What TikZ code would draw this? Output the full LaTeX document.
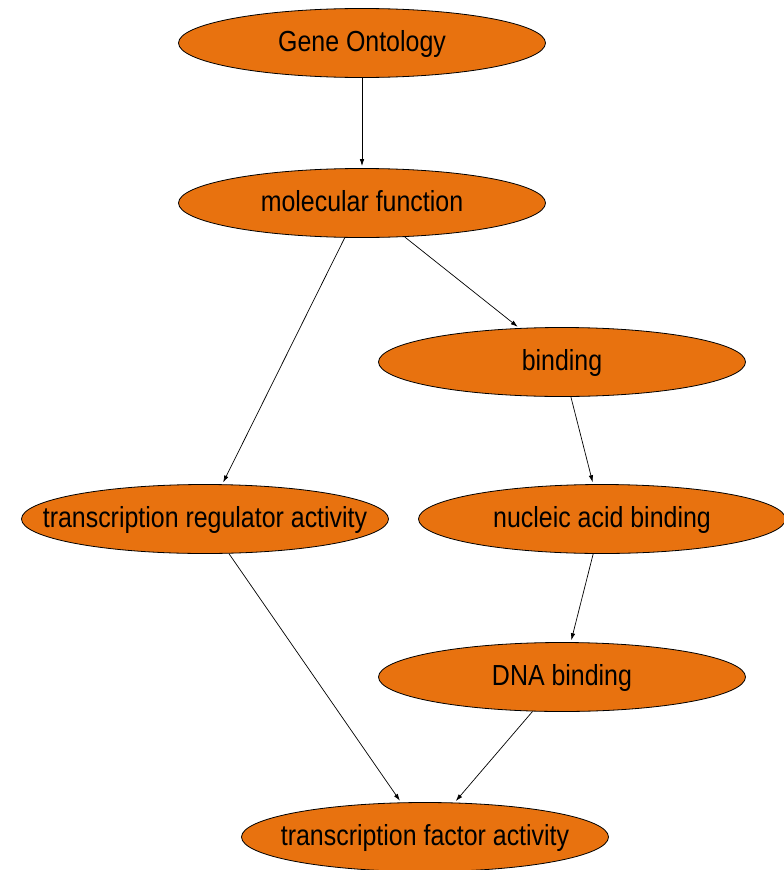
\documentclass[tikz,border=0pt]{standalone}
\usepackage{fontspec}
\setmainfont{Liberation Sans}
\usetikzlibrary{shapes.geometric,arrows.meta}
\definecolor{goorange}{HTML}{E8720F}
% label set on the node centre: zero-size box, baseline 8pt below centre,
% glyphs narrowed a little
\newcommand\termtext[1]{\raisebox{-8pt}[0pt][0pt]{\makebox[0pt]{\scalebox{0.86}[1]{#1}}}}
\tikzset{
  term/.style={ellipse, draw=black, line width=0.8pt, fill=goorange,
    minimum width=367pt, minimum height=69pt, inner sep=0pt,
    font=\fontsize{29pt}{34pt}\selectfont},
  isa/.style={draw=black, line width=0.7pt,
    -{Latex[length=7pt,width=4.5pt]}, shorten >=2pt}
}
\begin{document}
\begin{tikzpicture}[x=1pt,y=-1pt]
  \useasboundingbox (0,0) rectangle (784,870);
  \clip (0,0) rectangle (784,870);
  \node[term] (go)   at (362,43)  {\termtext{Gene Ontology}};
  \node[term] (mf)   at (362,203) {\termtext{molecular function}};
  \node[term] (bind) at (562,362) {\termtext{binding}};
  \node[term] (tra)  at (205,519) {\termtext{transcription regulator activity}};
  \node[term] (nab)  at (602,519) {\termtext{nucleic acid binding}};
  \node[term] (dna)  at (562,677) {\termtext{DNA binding}};
  \node[term] (tfa)  at (425,837) {\termtext{transcription factor activity}};
  \draw[isa] (go) -- (mf);
  \draw[isa] (mf) -- (bind);
  \draw[isa] (mf) -- (tra);
  \draw[isa] (bind) -- (nab);
  \draw[isa] (nab) -- (dna);
  \draw[isa] (tra) -- (tfa);
  \draw[isa] (dna) -- (tfa);
\end{tikzpicture}
\end{document}
